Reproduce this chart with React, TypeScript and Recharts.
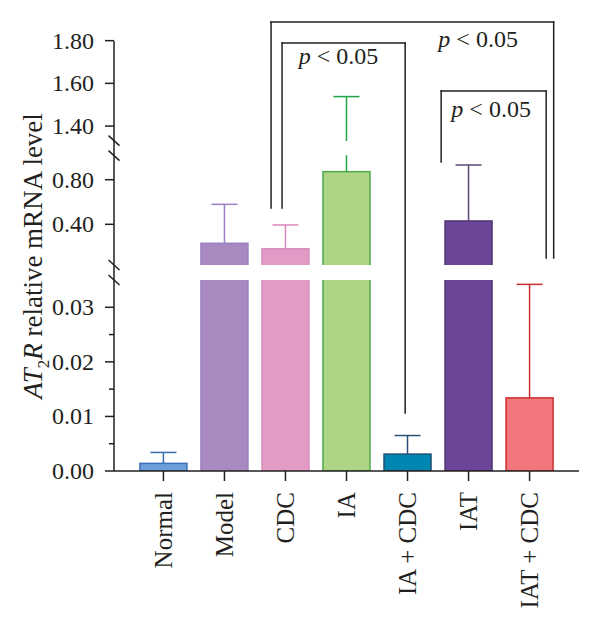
import { Bar, BarChart, ReferenceDot, ReferenceLine, XAxis, YAxis } from "recharts";

const categories = ["Normal", "Model", "CDC", "IA", "IA + CDC", "IAT", "IAT + CDC"];
const means = [0.0014, 0.23, 0.181, 0.872, 0.0031, 0.43, 0.0134];
const errors = [0.002, 0.349, 0.213, 0.666, 0.0034, 0.502, 0.0208];
const majorTicks = [0, 0.01, 0.02, 0.03, 0.4, 0.8, 1.4, 1.6, 1.8];
const minorTicks = [0.005, 0.015, 0.025];

const fills = ["#6c9fda", "#a98ac0", "#e29bc5", "#aed583", "#0087b1", "#6b4597", "#f2777d"];
const strokes = ["#3d6fb6", "#9a80c2", "#d98dbf", "#4caa4a", "#1e4f76", "#4e3772", "#cc2f2d"];
const whiskers = ["#3b6cb3", "#9c7fc4", "#d886bd", "#1fa548", "#2b4f75", "#5a4675", "#c9312e"];

const INK = "#231f20";
const FONT = '"Liberation Serif", "Times New Roman", serif';

// broken y axis: each piece maps [lo, hi] onto its own run of display units
const pieces = [
  { lo: 0, hi: 0.035, start: 0, perUnit: 5457 },
  { lo: 0.035, hi: 1.02, start: 206, perUnit: 111.5 },
  { lo: 1.33, hi: 1.8, start: 330, perUnit: 213.5 },
];
const Y_MAX = 430;

function toDisplay(v: number) {
  for (let i = 0; i < pieces.length; i++) {
    const p = pieces[i];
    if (v <= p.hi || i === pieces.length - 1) {
      const c = Math.max(p.lo, Math.min(p.hi, v));
      return p.start + (c - p.lo) * p.perUnit;
    }
  }
  return 0;
}

const gaps = pieces.slice(1).map((p, i) => [toDisplay(pieces[i].hi), p.start]);

const data = categories.map((name, i) => ({
  idx: i,
  name,
  d: toDisplay(means[i]),
  cap: toDisplay(means[i] + errors[i]),
}));

const allTicks = [...majorTicks, ...minorTicks].sort((a, b) => a - b);

// significance brackets (x in category index units, y in display units)
const brackets = [
  { left: 1.764, right: 6.395, top: 449, leftEnd: 263, rightEnd: 213 },
  { left: 1.944, right: 3.961, top: 428, leftEnd: 263, rightEnd: 58 },
  { left: 4.551, right: 6.272, top: 380, leftEnd: 309, rightEnd: 213 },
];
const pLabels = [
  { x: 5.157, y: 424 },
  { x: 2.87, y: 406.7 },
  { x: 5.37, y: 354.3 },
];

const X_MIN = -0.81;
const X_MAX = 6.81;

const BrokenBar = (props: any) => {
  const { x, y, width, height, payload } = props;
  const i = payload.idx;
  const base = y + height;
  const k = payload.d > 0 ? height / payload.d : 1;
  const cx = x + width / 2;
  const capY = base - payload.cap * k;
  const reach = Math.max(payload.d, payload.cap);
  return (
    <g>
      <rect x={x} y={y} width={width} height={height} fill={fills[i]} stroke={strokes[i]} strokeWidth={1.5} />
      <line x1={cx} y1={y} x2={cx} y2={capY} stroke={whiskers[i]} strokeWidth={1.5} />
      <line x1={cx - 13} y1={capY} x2={cx + 13} y2={capY} stroke={whiskers[i]} strokeWidth={1.5} />
      {gaps
        .filter((g) => reach > g[0])
        .map((g, j) => (
          <rect key={j} x={x - 3} y={base - g[1] * k} width={width + 6} height={(g[1] - g[0]) * k} fill="#fff" />
        ))}
    </g>
  );
};

const YTick = ({ x, y, payload }: any) => {
  const v = allTicks.find((t) => Math.abs(toDisplay(t) - payload.value) < 0.01);
  const minor = v !== undefined && minorTicks.includes(v);
  return (
    <g>
      <line x1={x - (minor ? 5 : 9)} y1={y} x2={x} y2={y} stroke={INK} strokeWidth={1.5} />
      {!minor && v !== undefined && (
        <text x={x - 20} y={y} dy="0.33em" textAnchor="end" fill={INK} fontSize={24} fontFamily={FONT}>
          {v.toFixed(2)}
        </text>
      )}
    </g>
  );
};

const XTick = ({ x, y, payload }: any) => (
  <text
    transform={`translate(${x},${y}) rotate(-90)`}
    textAnchor="end"
    dy="0.33em"
    fill={INK}
    fontSize={25}
    fontFamily={FONT}
  >
    {categories[payload.value]}
  </text>
);

const YLabel = ({ viewBox }: any) => {
  const cx = viewBox.x + 8;
  const cy = viewBox.y + viewBox.height / 2;
  return (
    <text
      x={cx}
      y={cy}
      transform={`rotate(-90, ${cx}, ${cy})`}
      textAnchor="middle"
      fill={INK}
      fontSize={27}
      fontFamily={FONT}
    >
      <tspan fontStyle="italic">AT</tspan>
      <tspan fontSize={17} dy={7}>2</tspan>
      <tspan fontStyle="italic" dy={-7}>R</tspan>
      <tspan> relative mRNA level</tspan>
    </text>
  );
};

const PLabel = ({ viewBox }: any) => (
  <text x={viewBox.x + viewBox.width / 2} y={viewBox.y + viewBox.height / 2} textAnchor="middle" fill={INK} fontSize={24} fontFamily={FONT}>
    <tspan fontStyle="italic">p</tspan>
    <tspan> &lt; 0.05</tspan>
  </text>
);

export default function App() {
  const tickPx = 5.5 / ((579 - 114) / (X_MAX - X_MIN));
  return (
    <div style={{ position: "absolute", left: 0, top: 0, width: 600, height: 630, background: "#fff" }}>
      <BarChart width={600} height={630} data={data} margin={{ top: 41, right: 21, bottom: 0, left: 34 }}>
        <XAxis
          dataKey="idx"
          type="number"
          domain={[X_MIN, X_MAX]}
          allowDataOverflow
          ticks={categories.map((_, i) => i)}
          interval={0}
          height={159}
          tickSize={10}
          tickMargin={11}
          tick={<XTick />}
          axisLine={{ stroke: INK, strokeWidth: 1.5 }}
          tickLine={{ stroke: INK, strokeWidth: 1.5 }}
        />
        <YAxis
          type="number"
          domain={[0, Y_MAX]}
          allowDataOverflow
          ticks={allTicks.map(toDisplay)}
          interval={0}
          width={80}
          tickLine={false}
          tickSize={0}
          tickMargin={0}
          tick={<YTick />}
          axisLine={{ stroke: INK, strokeWidth: 1.5 }}
          label={<YLabel />}
        />
        <Bar dataKey="d" barSize={47} isAnimationActive={false} shape={<BrokenBar />} />
        {gaps.map((g, j) => {
          const c = (g[0] + g[1]) / 2;
          return [7.5, -7.5].map((o, m) => (
            <ReferenceLine
              key={`brk-${j}-${m}`}
              ifOverflow="visible"
              stroke={INK}
              strokeWidth={1.5}
              segment={[
                { x: X_MIN - tickPx, y: c + o + 5 },
                { x: X_MIN + tickPx, y: c + o - 5 },
              ]}
            />
          ));
        })}
        {brackets.map((b, j) => [
          [
            { x: b.left, y: b.leftEnd },
            { x: b.left, y: b.top },
          ],
          [
            { x: b.left, y: b.top },
            { x: b.right, y: b.top },
          ],
          [
            { x: b.right, y: b.top },
            { x: b.right, y: b.rightEnd },
          ],
        ].map((seg, m) => (
          <ReferenceLine
            key={`br-${j}-${m}`}
            ifOverflow="visible"
            stroke={INK}
            strokeWidth={1.5}
            strokeLinecap="square"
            segment={seg}
          />
        )))}
        {pLabels.map((p, j) => (
          <ReferenceDot key={`p-${j}`} x={p.x} y={p.y} r={0} fill="none" stroke="none" ifOverflow="visible" label={<PLabel />} />
        ))}
      </BarChart>
    </div>
  );
}
